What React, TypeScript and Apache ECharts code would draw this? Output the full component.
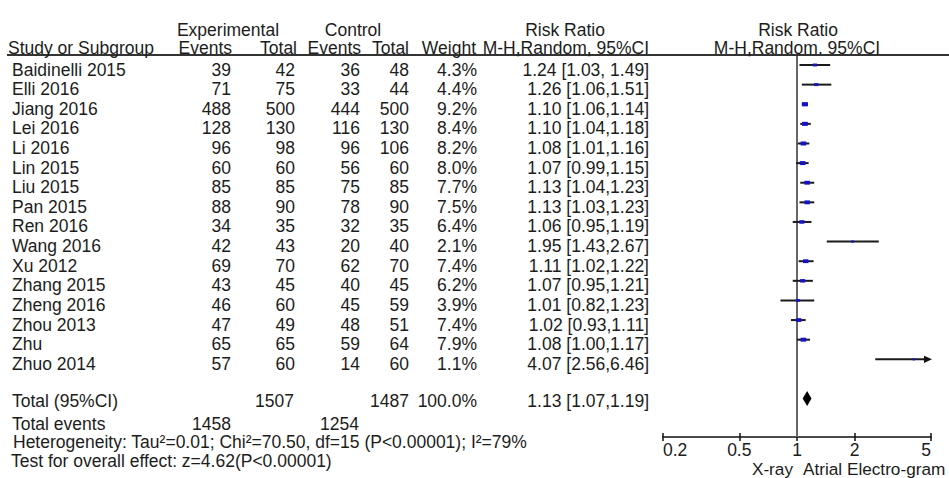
import React, { useEffect, useRef } from "react";
import * as echarts from "echarts";

// ---- study data ----
const studies = [
  "Baidinelli 2015", "Elli 2016", "Jiang 2016", "Lei 2016", "Li 2016", "Lin 2015",
  "Liu 2015", "Pan 2015", "Ren 2016", "Wang 2016", "Xu 2012", "Zhang 2015",
  "Zheng 2016", "Zhou 2013", "Zhu", "Zhuo 2014",
];
const expEvents = [39, 71, 488, 128, 96, 60, 85, 88, 34, 42, 69, 43, 46, 47, 65, 57];
const expTotal = [42, 75, 500, 130, 98, 60, 85, 90, 35, 43, 70, 45, 60, 49, 65, 60];
const ctrlEvents = [36, 33, 444, 116, 96, 56, 75, 78, 32, 20, 62, 40, 45, 48, 59, 14];
const ctrlTotal = [48, 44, 500, 130, 106, 60, 85, 90, 35, 40, 70, 45, 59, 51, 64, 60];
const weights = [4.3, 4.4, 9.2, 8.4, 8.2, 8.0, 7.7, 7.5, 6.4, 2.1, 7.4, 6.2, 3.9, 7.4, 7.9, 1.1];
const riskRatio = [1.24, 1.26, 1.10, 1.10, 1.08, 1.07, 1.13, 1.13, 1.06, 1.95, 1.11, 1.07, 1.01, 1.02, 1.08, 4.07];
const ciLow = [1.03, 1.06, 1.06, 1.04, 1.01, 0.99, 1.04, 1.03, 0.95, 1.43, 1.02, 0.95, 0.82, 0.93, 1.00, 2.56];
const ciHigh = [1.49, 1.51, 1.14, 1.18, 1.16, 1.15, 1.23, 1.23, 1.19, 2.67, 1.22, 1.21, 1.23, 1.11, 1.17, 6.46];

// pooled estimate
const pooledRR = 1.13;
const pooledLow = 1.07;
const pooledHigh = 1.19;
const totalExp = 1507;
const totalCtrl = 1487;
const totalWeight = "100.0%";
const totalExpEvents = 1458;
const totalCtrlEvents = 1254;

const heterogeneityText = "Heterogeneity: Tau\u00B2=0.01; Chi\u00B2=70.50, df=15 (P<0.00001); I\u00B2=79%";
const overallText = "Test for overall effect: z=4.62(P<0.00001)";

const xTicks = [0.2, 0.5, 1, 2, 5];
const X_MIN = 0.2;
const X_MAX = 5;
const NO_EFFECT = 1;

// ---- layout ----
const W = 949;
const H = 478;
const PLOT_LEFT = 663;
const PLOT_RIGHT = 931;
const PLOT_TOP = 55;
const PLOT_BOTTOM = 437;
const ROW0 = 65;
const ROW_STEP = 19.62;
const TEXT_SHIFT = 4.5;
const POOLED_ROW = 17;

const FONT_FAMILY = '"Liberation Sans", Arial, sans-serif';
const FONT_SIZE = 17.5;
const INK = "#1c1c1c";

const lg = (v: number) => Math.log10(v);

function txt(x: number, y: number, text: string, align: string = "left", size: number = FONT_SIZE) {
  return {
    type: "text",
    x,
    y,
    z: 10,
    silent: true,
    style: {
      text,
      fill: INK,
      font: `${size}px ${FONT_FAMILY}`,
      lineHeight: 16,
      textAlign: align,
      align,
      textVerticalAlign: "middle",
      verticalAlign: "middle",
    },
  };
}

function ciLabel(i: number) {
  const sep = i === 0 ? ", " : ",";
  return `${riskRatio[i].toFixed(2)} [${ciLow[i].toFixed(2)}${sep}${ciHigh[i].toFixed(2)}]`;
}

export default function App() {
  const ref = useRef<HTMLDivElement>(null);

  useEffect(() => {
    if (!ref.current) return;
    const chart = echarts.init(ref.current, null, { renderer: "svg" });

    const rowY = (i: number) => ROW0 + ROW_STEP * i + TEXT_SHIFT;

    // table columns (right edges)
    const cExpEv = 231;
    const cExpTot = 295;
    const cCtlEv = 360;
    const cCtlTot = 409;
    const cWeight = 477;
    const cRR = 649;

    const elements: any[] = [
      // headers
      txt(228, 29.5, "Experimental", "center"),
      txt(353, 29.5, "Control", "center"),
      txt(565, 29.5, "Risk Ratio", "center"),
      txt(798, 29.5, "Risk Ratio", "center"),
      txt(8, 48, "Study or Subgroup"),
      txt(232, 48, "Events", "right"),
      txt(297, 48, "Total", "right"),
      txt(361, 48, "Events", "right"),
      txt(409, 48, "Total", "right"),
      txt(476, 48, "Weight", "right"),
      txt(649, 48, "M-H,Random, 95%CI", "right"),
      txt(797, 48, "M-H,Random. 95%CI", "center"),
      {
        type: "line",
        z: 5,
        silent: true,
        shape: { x1: 7, y1: PLOT_TOP, x2: W, y2: PLOT_TOP },
        style: { stroke: "#333", lineWidth: 2 },
      },
    ];

    studies.forEach((name, i) => {
      const y = rowY(i);
      elements.push(txt(12, y, name));
      elements.push(txt(cExpEv, y, String(expEvents[i]), "right"));
      elements.push(txt(cExpTot, y, String(expTotal[i]), "right"));
      elements.push(txt(cCtlEv, y, String(ctrlEvents[i]), "right"));
      elements.push(txt(cCtlTot, y, String(ctrlTotal[i]), "right"));
      elements.push(txt(cWeight, y, `${weights[i].toFixed(1)}%`, "right"));
      elements.push(txt(cRR, y, ciLabel(i), "right"));
    });

    const yTot = 401;
    elements.push(txt(12, yTot, "Total (95%CI)"));
    elements.push(txt(cExpTot - 1, yTot, String(totalExp), "right"));
    elements.push(txt(cCtlTot, yTot, String(totalCtrl), "right"));
    elements.push(txt(cWeight, yTot, totalWeight, "right"));
    elements.push(
      txt(cRR, yTot, `${pooledRR.toFixed(2)} [${pooledLow.toFixed(2)},${pooledHigh.toFixed(2)}]`, "right")
    );
    elements.push(txt(12, 423.5, "Total events"));
    elements.push(txt(cExpEv, 423.5, String(totalExpEvents), "right"));
    elements.push(txt(cCtlEv - 1, 423.5, String(totalCtrlEvents), "right"));
    elements.push(txt(13, 442, heterogeneityText));
    elements.push(txt(11, 460.5, overallText));
    elements.push(txt(793, 468.5, "X-ray", "right", 17.2));
    elements.push(txt(803, 468.5, "Atrial Electro-gram", "left", 17.2));

    // forest marks: [row, logRR, logLow, logHigh, weight, kind]
    const forestData: number[][] = studies.map((_, i) => [
      i, lg(riskRatio[i]), lg(ciLow[i]), lg(ciHigh[i]), weights[i], 0,
    ]);
    forestData.push([POOLED_ROW, lg(pooledRR), lg(pooledLow), lg(pooledHigh), 100, 1]);

    const xMinL = lg(X_MIN);
    const xMaxL = lg(X_MAX);
    const tickVals = xTicks.map(lg);
    const yMin = (PLOT_TOP - ROW0) / ROW_STEP;
    const yMax = (PLOT_BOTTOM - ROW0) / ROW_STEP;

    const axisCommon = {
      type: "value",
      min: xMinL,
      max: xMaxL,
      position: "bottom",
      splitLine: { show: false },
    };

    const option: any = {
      animation: false,
      backgroundColor: "#ffffff",
      grid: {
        left: PLOT_LEFT,
        right: W - PLOT_RIGHT,
        top: PLOT_TOP,
        bottom: H - PLOT_BOTTOM,
        containLabel: false,
      },
      xAxis: [
        {
          ...axisCommon,
          axisLine: { show: true, onZero: false, lineStyle: { color: "#111", width: 1.5 } },
          axisTick: {
            show: true,
            inside: false,
            length: 4,
            customValues: tickVals,
            lineStyle: { color: "#111", width: 1.5 },
          },
          axisLabel: {
            show: true,
            customValues: tickVals,
            margin: 5,
            color: INK,
            fontSize: FONT_SIZE,
            lineHeight: 16,
            fontFamily: FONT_FAMILY,
            alignMinLabel: "left",
            alignMaxLabel: "right",
            formatter: (v: number) => String(+Math.pow(10, v).toPrecision(2)),
          },
        },
        {
          ...axisCommon,
          axisLine: { show: false, onZero: false },
          axisTick: {
            show: true,
            inside: true,
            length: 4,
            customValues: tickVals,
            lineStyle: { color: "#111", width: 1.5 },
          },
          axisLabel: { show: false },
        },
      ],
      yAxis: {
        type: "value",
        inverse: true,
        min: yMin,
        max: yMax,
        show: false,
      },
      series: [
        {
          // line of no effect
          type: "line",
          xAxisIndex: 0,
          yAxisIndex: 0,
          symbol: "none",
          silent: true,
          z: 1,
          data: [
            [lg(NO_EFFECT), yMin],
            [lg(NO_EFFECT), yMax],
          ],
          lineStyle: { color: "#666", width: 2 },
        },
        {
          type: "custom",
          xAxisIndex: 0,
          yAxisIndex: 0,
          clip: false,
          z: 3,
          data: forestData,
          encode: { x: [1, 2, 3], y: 0 },
          renderItem: (_params: any, api: any) => {
            const row = api.value(0);
            const est = api.value(1);
            const lo = api.value(2);
            const hi = api.value(3);
            const wt = api.value(4);
            const kind = api.value(5);
            const hiClip = Math.min(hi, xMaxL);
            const pLo = api.coord([lo, row]);
            const pHi = api.coord([hiClip, row]);
            const pC = api.coord([est, row]);
            if (kind === 1) {
              return {
                type: "polygon",
                shape: {
                  points: [
                    [pLo[0], pC[1]],
                    [pC[0], pC[1] - 7.5],
                    [pHi[0], pC[1]],
                    [pC[0], pC[1] + 7.5],
                  ],
                },
                style: { fill: "#000" },
              };
            }
            const arrow = hi > xMaxL;
            const sw = Math.max(2.4, 2.0 * Math.sqrt(wt));
            const sh = Math.max(2.2, 0.7 * sw);
            const children: any[] = [
              {
                type: "line",
                shape: { x1: pLo[0], y1: pC[1], x2: arrow ? pHi[0] - 6 : pHi[0], y2: pC[1] },
                style: { stroke: "#1a1a1a", lineWidth: 2 },
              },
              {
                type: "rect",
                shape: { x: pC[0] - sw / 2, y: pC[1] - sh / 2, width: sw, height: sh },
                style: { fill: "#1414c4" },
              },
            ];
            if (arrow) {
              children.push({
                type: "polygon",
                shape: {
                  points: [
                    [pHi[0] + 1, pC[1]],
                    [pHi[0] - 7, pC[1] - 3.6],
                    [pHi[0] - 7, pC[1] + 3.6],
                  ],
                },
                style: { fill: "#111" },
              });
            }
            return { type: "group", children };
          },
        },
      ],
      graphic: { elements },
    };

    chart.setOption(option);
    return () => chart.dispose();
  }, []);

  return (
    <div
      ref={ref}
      style={{ position: "fixed", left: 0, top: 0, width: W, height: H, background: "#fff" }}
    />
  );
}
